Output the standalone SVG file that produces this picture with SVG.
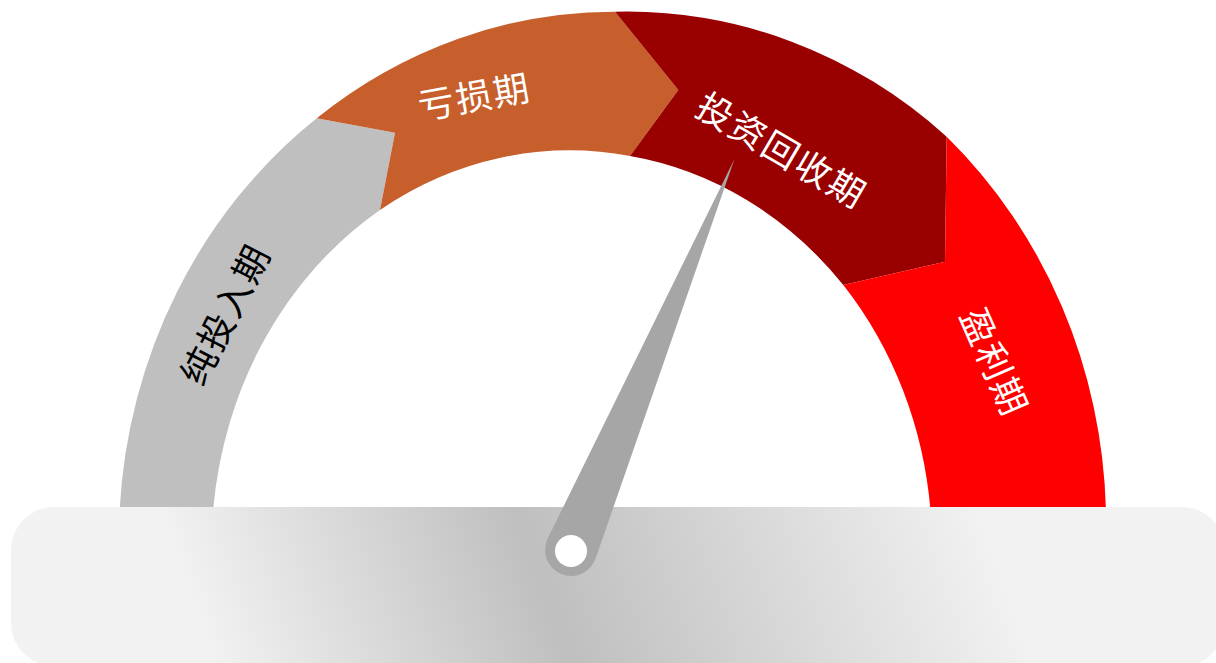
<svg xmlns="http://www.w3.org/2000/svg" width="1216" height="663" viewBox="0 0 1216 663">
  <defs>
    <linearGradient id="panelGrad" gradientUnits="userSpaceOnUse" x1="185" y1="585" x2="913.5" y2="320">
      <stop offset="0" stop-color="#F2F2F2"/>
      <stop offset="0.434" stop-color="#BFBFBF"/>
      <stop offset="1" stop-color="#F2F2F2"/>
    </linearGradient>
    <style>
      .lbl { font-family: "Noto Sans CJK SC", "Noto Sans", sans-serif; font-size: 36px; letter-spacing: 2px; text-anchor: middle; dominant-baseline: central; }
      .w { fill: #FFFFFF; }
      .k { fill: #000000; }
    </style>
  </defs>
  <rect width="1216" height="663" fill="#FFFFFF"/>

  <g id="seg-net-investment">
    <path fill="#BFBFBF" d="M 119.5,512 A 494 527 0 0 1 316.7,118.3 L 395,132.7 L 380,210 A 360.5 399 0 0 0 213,512 Z"/>
    <text class="lbl k" transform="translate(223,313) rotate(-62.8)">纯投入期</text>
  </g>

  <g id="seg-loss">
    <path fill="#C65F2B" d="M 316.7,118.3 A 494 527 0 0 1 615,11.7 L 678.3,90 L 630,156 A 360.5 399 0 0 0 380,210 L 395,132.7 Z"/>
    <text class="lbl w" transform="translate(474,94) rotate(-10.2)">亏损期</text>
  </g>

  <g id="seg-payback">
    <path fill="#990000" d="M 615,11.7 A 494 527 0 0 1 946.7,136.7 L 945,261.7 L 843.3,285 A 360.5 399 0 0 0 630,156 L 678.3,90 Z"/>
    <text class="lbl w" transform="translate(783,148) rotate(30.4)">投资回收期</text>
  </g>

  <g id="seg-profit">
    <path fill="#FF0000" d="M 946.7,136.7 A 494 527 0 0 1 1106,512 L 930.6,512 A 360.5 399 0 0 0 843.3,285 L 945,261.7 Z"/>
    <text class="lbl w" transform="translate(996.7,361) rotate(66.3)">盈利期</text>
  </g>

  <g id="base-panel">
    <rect x="11" y="507" width="1214" height="159" rx="43" ry="43" fill="url(#panelGrad)"/>
  </g>

  <g id="needle">
    <path fill="#A6A6A6" d="M 734.5,159 L 595.6,558.5 A 26 26 0 1 1 547.7,538.5 Z"/>
    <circle cx="571" cy="551" r="16" fill="#FFFFFF"/>
  </g>
</svg>
